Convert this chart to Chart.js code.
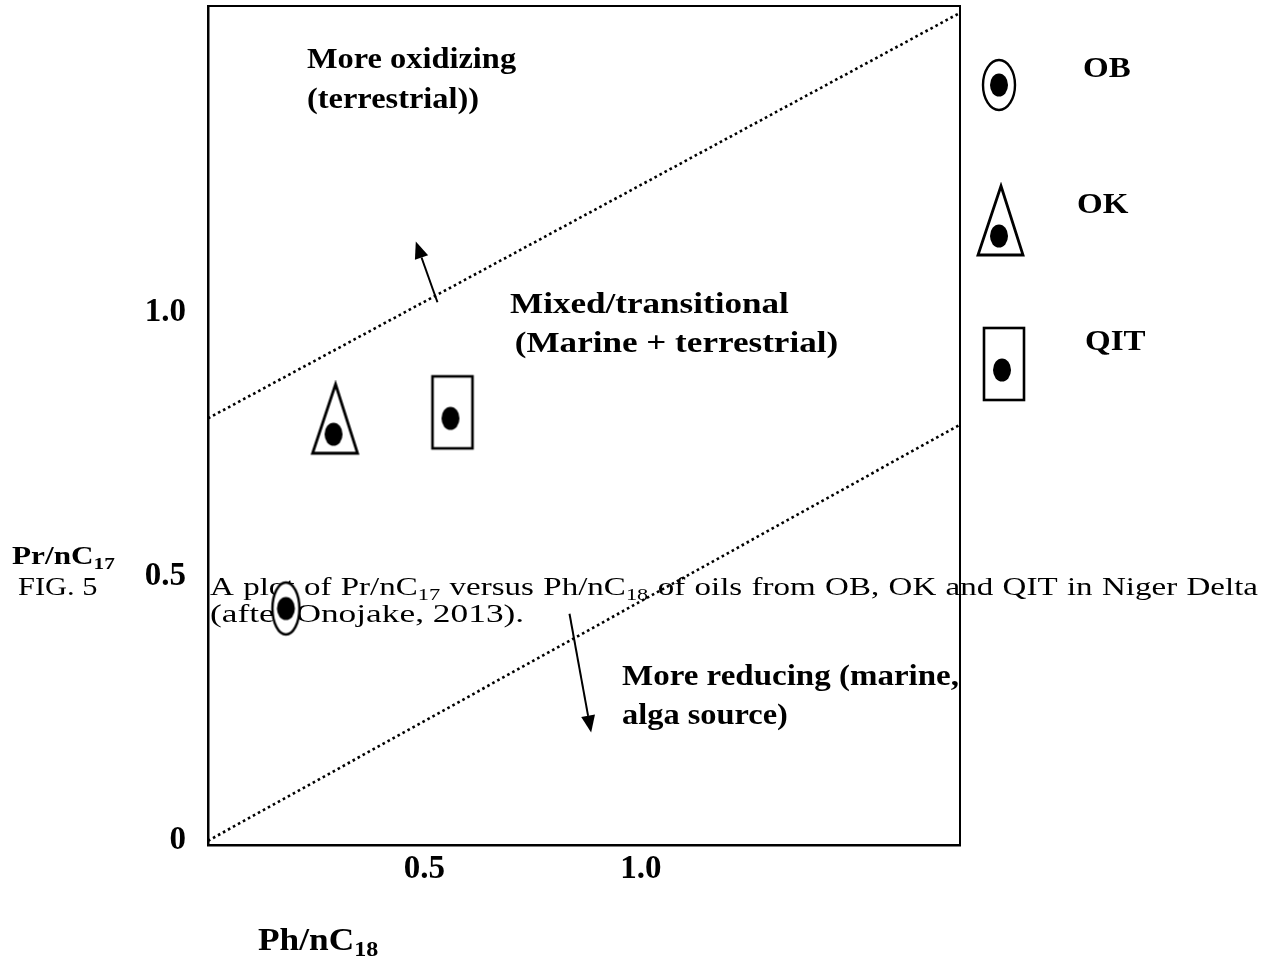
<!DOCTYPE html>
<html>
<head>
<meta charset="utf-8">
<title>Pr/nC17 versus Ph/nC18</title>
<script src="https://cdn.jsdelivr.net/npm/chart.js@4.4.0/dist/chart.umd.min.js"></script>
<style>
  html, body { margin: 0; padding: 0; background: #fff; }
  #wrap { width: 1279px; height: 962px; position: relative; }
  canvas { display: block; }
</style>
</head>
<body>
<div id="wrap"><canvas id="plot" width="1279" height="962"></canvas></div>
<script>
// Samples: Ph/nC18 (x) and Pr/nC17 (y)
const sampleNames = ['OB', 'OK', 'QIT'];
const phToNC18 = [0.18, 0.29, 0.56];
const prToNC17 = [0.44, 0.77, 0.80];
const markerKinds = ['ring', 'triangle', 'box'];

// Axis ranges and tick values
const xRange = [0, 1.737];
const yRange = [-0.008, 1.581];
const xTickValues = [0.5, 1.0];
const yTickValues = [0, 0.5, 1.0];

// Environment boundaries (dotted lines)
const upperBoundaryX = [0, 1.737];
const upperBoundaryY = [0.80, 1.568];
const lowerBoundaryX = [0, 1.737];
const lowerBoundaryY = [0, 0.788];

// Direction arrows (tail -> head)
const oxidizingArrowX = [0.53, 0.48];
const oxidizingArrowY = [1.02, 1.135];
const reducingArrowX = [0.835, 0.885];
const reducingArrowY = [0.43, 0.205];

const SERIF = '"Liberation Serif", "Times New Roman", serif';

// ---------- marker symbols (dot at the canvas centre) ----------
function drawDot(g, cx, cy) {
  g.beginPath();
  g.ellipse(cx, cy, 9, 11.5, 0, 0, Math.PI * 2);
  g.fillStyle = '#000';
  g.fill();
}
function makeMarker(kind, big) {
  const c = document.createElement('canvas');
  const g = c.getContext('2d');
  g.strokeStyle = '#000';
  g.lineJoin = 'miter';
  if (kind === 'ring') {
    const rx = big ? 16 : 13.5, ry = big ? 25 : 26;
    c.width = Math.ceil(2 * rx + 6); c.height = Math.ceil(2 * ry + 6);
    const cx = c.width / 2, cy = c.height / 2;
    g.beginPath();
    g.ellipse(cx, cy, rx, ry, 0, 0, Math.PI * 2);
    g.fillStyle = '#fff'; g.fill();
    g.lineWidth = 2.4; g.strokeStyle = '#000'; g.stroke();
    drawDot(g, cx, cy);
  } else if (kind === 'triangle') {
    c.width = 54; c.height = 108;
    const cx = 27, cy = 54;
    g.beginPath();
    g.moveTo(cx + 2, cy - 50);
    g.lineTo(cx + 24, cy + 19);
    g.lineTo(cx - 21, cy + 19);
    g.closePath();
    g.fillStyle = '#fff'; g.fill();
    g.lineWidth = 2.8; g.strokeStyle = '#000'; g.stroke();
    drawDot(g, cx, cy);
  } else {
    c.width = 50; c.height = 90;
    const cx = 25, cy = 45;
    g.fillStyle = '#fff';
    g.fillRect(cx - 18, cy - 42, 40, 72);
    g.lineWidth = 2.6; g.strokeStyle = '#000';
    g.strokeRect(cx - 18, cy - 42, 40, 72);
    drawDot(g, cx, cy);
  }
  return c;
}
const plotMarkers = markerKinds.map(k => makeMarker(k, false));
const keyMarkers = markerKinds.map(k => makeMarker(k, true));

// ---------- text helpers ----------
function partsWidth(ctx, parts, size, weight) {
  let w = 0;
  for (const p of parts) {
    const s = p.sub ? size * 0.68 : size;
    ctx.font = `${weight} ${s}px ${SERIF}`;
    w += ctx.measureText(p.t).width;
  }
  return w;
}
function drawParts(ctx, parts, x, y, size, weight, sx) {
  ctx.save();
  ctx.translate(x, y);
  ctx.scale(sx, 1);
  ctx.fillStyle = '#000';
  ctx.textBaseline = 'alphabetic';
  ctx.textAlign = 'left';
  let cx = 0;
  for (const p of parts) {
    const s = p.sub ? size * 0.68 : size;
    ctx.font = `${weight} ${s}px ${SERIF}`;
    ctx.fillText(p.t, cx, p.sub ? size * 0.2 : 0);
    cx += ctx.measureText(p.t).width;
  }
  ctx.restore();
}
const T = s => [{ t: s }];

// Figure caption, written underneath the plot
const captionLine1 = [T('A'), T('plot'), T('of'), [{ t: 'Pr/nC' }, { t: '17', sub: true }], T('versus'),
  [{ t: 'Ph/nC' }, { t: '18', sub: true }], T('of'), T('oils'), T('from'), T('OB,'), T('OK'), T('and'),
  T('QIT'), T('in'), T('Niger'), T('Delta')];
const captionLine2 = '(after Onojake, 2013).';

const captionPlugin = {
  id: 'caption',
  beforeDraw(chart) {
    const ctx = chart.ctx;
    const size = 26, sx = 1.27;
    drawParts(ctx, T('FIG. 5'), 18, 595, size, 'normal', 1.17);
    // justified first line
    const left = 210, right = 1258;
    const widths = captionLine1.map(w => partsWidth(ctx, w, size, 'normal') * sx);
    const total = widths.reduce((a, b) => a + b, 0);
    const gap = (right - left - total) / (captionLine1.length - 1);
    let x = left;
    captionLine1.forEach((w, i) => {
      drawParts(ctx, w, x, 595, size, 'normal', sx);
      x += widths[i] + gap;
    });
    drawParts(ctx, T(captionLine2), 210, 622, size, 'normal', 1.36);
  }
};

// Region labels, arrows, frame and symbol key
const overlayPlugin = {
  id: 'overlay',
  afterDatasetsDraw(chart) {
    const ctx = chart.ctx;
    const xs = chart.scales.x, ys = chart.scales.y;

    // arrows
    const arrow = (ax, ay) => {
      const x0 = xs.getPixelForValue(ax[0]), y0 = ys.getPixelForValue(ay[0]);
      const x1 = xs.getPixelForValue(ax[1]), y1 = ys.getPixelForValue(ay[1]);
      const ang = Math.atan2(y1 - y0, x1 - x0);
      const len = 17, half = 7;
      const bx = x1 - len * Math.cos(ang), by = y1 - len * Math.sin(ang);
      ctx.save();
      ctx.strokeStyle = '#000'; ctx.fillStyle = '#000'; ctx.lineWidth = 2;
      ctx.beginPath(); ctx.moveTo(x0, y0); ctx.lineTo(bx, by); ctx.stroke();
      ctx.beginPath();
      ctx.moveTo(x1, y1);
      ctx.lineTo(bx + half * Math.sin(ang), by - half * Math.cos(ang));
      ctx.lineTo(bx - half * Math.sin(ang), by + half * Math.cos(ang));
      ctx.closePath(); ctx.fill();
      ctx.restore();
    };
    arrow(oxidizingArrowX, oxidizingArrowY);
    arrow(reducingArrowX, reducingArrowY);

    // region labels
    const sz = 30;
    drawParts(ctx, T('More oxidizing'), 307, 68, sz, 'bold', 1.08);
    drawParts(ctx, T('(terrestrial))'), 307, 108, sz, 'bold', 1.08);
    drawParts(ctx, T('Mixed/transitional'), 510, 313, sz, 'bold', 1.17);
    drawParts(ctx, T(' (Marine + terrestrial)'), 506, 352, sz, 'bold', 1.17);
    drawParts(ctx, T('More reducing (marine,'), 622, 685, sz, 'bold', 1.1);
    drawParts(ctx, T('alga source)'), 622, 724, sz, 'bold', 1.08);

    // axis titles
    drawParts(ctx, [{ t: 'Pr/nC' }, { t: '17', sub: true }], 12, 564, 25, 'bold', 1.25);
    drawParts(ctx, [{ t: 'Ph/nC' }, { t: '18', sub: true }], 258, 950, 31, 'bold', 1.14);
  },
  afterDraw(chart) {
    const ctx = chart.ctx;
    const a = chart.chartArea;
    // top and right edges of the frame
    ctx.save();
    ctx.strokeStyle = '#000';
    ctx.lineWidth = 2;
    ctx.beginPath();
    ctx.moveTo(a.left - 1, a.top);
    ctx.lineTo(a.right, a.top);
    ctx.lineTo(a.right, a.bottom);
    ctx.stroke();
    ctx.restore();

    // symbol key
    const keyDots = [[999, 85], [999, 236], [1002, 370]];
    const keyText = [[1083, 77], [1077, 213], [1085, 350]];
    keyMarkers.forEach((m, i) => {
      ctx.drawImage(m, keyDots[i][0] - m.width / 2, keyDots[i][1] - m.height / 2);
      drawParts(ctx, T(sampleNames[i]), keyText[i][0], keyText[i][1], 30, 'bold', 1.1);
    });
  }
};

const sampleSets = sampleNames.map((name, i) => ({
  label: name,
  data: [{ x: phToNC18[i], y: prToNC17[i] }],
  pointStyle: plotMarkers[i],
  pointRadius: 6,
  pointHoverRadius: 6,
  showLine: false,
  order: 0
}));

const boundarySet = (xs, ys, label) => ({
  label,
  data: xs.map((x, i) => ({ x, y: ys[i] })),
  showLine: true,
  borderColor: '#000',
  borderWidth: 2.6,
  borderDash: [2.6, 3.1],
  pointRadius: 0,
  fill: false,
  order: 1
});

new Chart(document.getElementById('plot'), {
  type: 'scatter',
  data: {
    datasets: [
      boundarySet(upperBoundaryX, upperBoundaryY, 'oxidizing / transitional'),
      boundarySet(lowerBoundaryX, lowerBoundaryY, 'transitional / reducing'),
      ...sampleSets
    ]
  },
  options: {
    responsive: false,
    devicePixelRatio: 1,
    animation: false,
    events: [],
    layout: { autoPadding: false, padding: { top: 6, right: 319, left: 0, bottom: 0 } },
    plugins: { legend: { display: false }, tooltip: { enabled: false } },
    scales: {
      x: {
        type: 'linear',
        min: xRange[0], max: xRange[1],
        afterFit(s) { s.height = 117; s.paddingLeft = 0; s.paddingRight = 0; },
        afterBuildTicks(s) { s.ticks = xTickValues.map(v => ({ value: v })); },
        grid: { display: false, drawTicks: false },
        border: { display: true, color: '#000', width: 2.5 },
        ticks: {
          padding: 5,
          color: '#000',
          font: { family: SERIF, size: 33, weight: 'bold' },
          maxRotation: 0,
          callback: v => Number(v).toFixed(1)
        }
      },
      y: {
        type: 'linear',
        min: yRange[0], max: yRange[1],
        afterFit(s) { s.width = 208; s.paddingTop = 0; s.paddingBottom = 0; },
        afterBuildTicks(s) { s.ticks = yTickValues.map(v => ({ value: v })); },
        grid: { display: false, drawTicks: false },
        border: { display: true, color: '#000', width: 2.5 },
        ticks: {
          padding: 22,
          color: '#000',
          font: { family: SERIF, size: 33, weight: 'bold' },
          callback: v => (v === 0 ? '0' : Number(v).toFixed(1))
        }
      }
    }
  },
  plugins: [captionPlugin, overlayPlugin]
});
</script>
</body>
</html>
